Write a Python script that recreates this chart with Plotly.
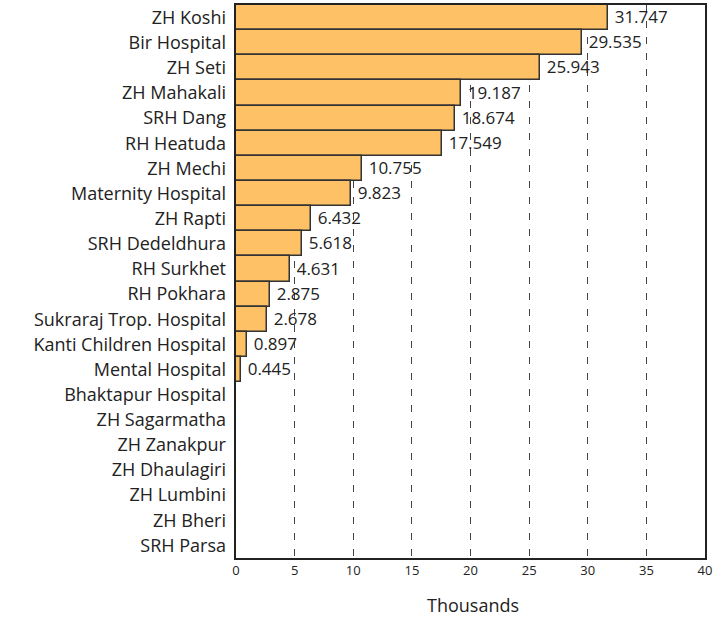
import plotly.graph_objects as go

hospitals = ["ZH Koshi", "Bir Hospital", "ZH Seti", "ZH Mahakali", "SRH Dang", "RH Heatuda",
             "ZH Mechi", "Maternity Hospital", "ZH Rapti", "SRH Dedeldhura", "RH Surkhet",
             "RH Pokhara", "Sukraraj Trop. Hospital", "Kanti Children Hospital", "Mental Hospital",
             "Bhaktapur Hospital", "ZH Sagarmatha", "ZH Zanakpur", "ZH Dhaulagiri", "ZH Lumbini",
             "ZH Bheri", "SRH Parsa"]
values = [31.747, 29.535, 25.943, 19.187, 18.674, 17.549, 10.755, 9.823, 6.432, 5.618, 4.631,
          2.875, 2.678, 0.897, 0.445, 0, 0, 0, 0, 0, 0, 0]
x_ticks = [0, 5, 10, 15, 20, 25, 30, 35, 40]

labels = [f" {v:.3f}" if v > 0 else "" for v in values]

W, H = 714, 617
L, R, T, B = 236, 9, 5, 59
PW, PH = W - L - R, H - T - B

fig = go.Figure(go.Bar(
    x=values, y=hospitals, orientation="h",
    marker=dict(color="#FFC166", line=dict(color="#333333", width=1.5)),
    text=labels, textposition="outside", cliponaxis=False,
    textfont=dict(family="Open Sans", size=17, color="#222222"),
))

fig.update_layout(
    width=W, height=H,
    margin=dict(l=L, r=R, t=T, b=B),
    paper_bgcolor="white", plot_bgcolor="white",
    bargap=0, showlegend=False,
    font=dict(family="Open Sans", color="#222222"),
    xaxis=dict(range=[0, 40], tickvals=x_ticks, ticks="", showgrid=True, automargin=False,
               gridcolor="#444444", gridwidth=1, griddash="7px,9px", ticklabeloverflow="allow",
               showline=True, linecolor="#222222", linewidth=1.5, mirror=True,
               tickfont=dict(family="Open Sans", size=13, color="#222222"), zeroline=False),
    yaxis=dict(autorange="reversed", showgrid=False, ticks="", automargin=False,
               showline=True, linecolor="#222222", linewidth=1.5, mirror=True,
               tickfont=dict(family="Open Sans", size=18, color="#222222"), ticksuffix=" "),
    annotations=[
        dict(text="Thousands", xref="paper", yref="paper", x=(473 - L) / PW, y=-(605 - (H - B)) / PH,
             xanchor="center", yanchor="middle", showarrow=False,
             font=dict(family="Open Sans", size=18, color="#222222")),
        dict(text="<b>Source: HMIS</b>", xref="paper", yref="paper",
             x=(32 - L) / PW, y=-(610 - (H - B)) / PH, xanchor="left", yanchor="top",
             showarrow=False, font=dict(family="Open Sans", size=17, color="#12998A")),
    ],
)

fig.write_html("out.html", config={"displayModeBar": False},
               post_script="document.body.style.margin='0';document.body.style.overflow='hidden';")
